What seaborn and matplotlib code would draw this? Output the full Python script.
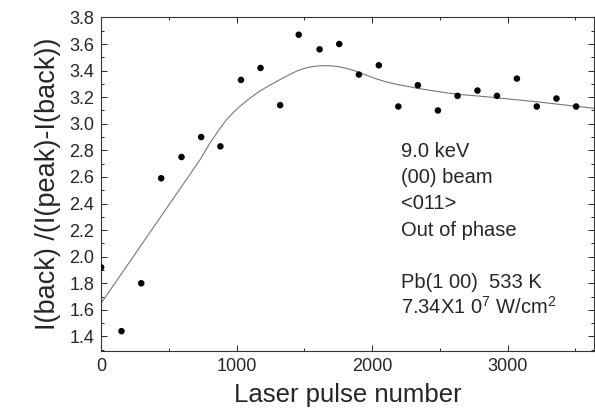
import numpy as np
import pandas as pd
import matplotlib
matplotlib.use('Agg')
import matplotlib.pyplot as plt
from matplotlib.ticker import MultipleLocator
import seaborn as sns

# measured points
pulse_number = [0, 150, 296, 443, 593, 738, 880, 1032, 1176, 1321, 1458, 1612, 1757,
                1902, 2049, 2193, 2337, 2485, 2630, 2777, 2921, 3068, 3215, 3360, 3505]
ratio = [1.92, 1.44, 1.80, 2.59, 2.75, 2.90, 2.83, 3.33, 3.42, 3.14, 3.67, 3.56, 3.60,
         3.37, 3.44, 3.13, 3.29, 3.10, 3.21, 3.25, 3.21, 3.34, 3.13, 3.19, 3.13]

# smooth guide curve
fit_x = [0, 730, 800, 870, 924, 975, 1022, 1095, 1169, 1245, 1316, 1390, 1451, 1510,
         1561, 1610, 1659, 1710, 1757, 1805, 1855, 1905, 1953, 2025, 2100, 2175, 2247,
         2345, 2443, 2540, 2640, 2836, 3032, 3228, 3424, 3640]
fit_y = [1.65, 2.73, 2.85, 2.955, 3.03, 3.085, 3.13, 3.19, 3.245, 3.29, 3.33, 3.37,
         3.40, 3.42, 3.43, 3.436, 3.437, 3.435, 3.429, 3.418, 3.404, 3.386, 3.367, 3.34,
         3.316, 3.298, 3.284, 3.265, 3.249, 3.234, 3.221, 3.204, 3.184, 3.164, 3.141,
         3.116]

labels = ['9.0 keV', '(00) beam', '<011>', 'Out of phase', '',
          'Pb(1 00)  533 K', r'7.34X1 0$^{7}$ W/cm$^{2}$']

pts = pd.DataFrame({'pulse': pulse_number, 'ratio': ratio})
fit = pd.DataFrame({'pulse': fit_x, 'ratio': fit_y})

sns.set_style('ticks')
plt.rcParams['font.family'] = ['Liberation Sans', 'DejaVu Sans']
plt.rcParams['mathtext.fontset'] = 'custom'
plt.rcParams['mathtext.rm'] = 'Liberation Sans'
plt.rcParams['mathtext.it'] = 'Liberation Sans'

fig, ax = plt.subplots(figsize=(5.95, 4.15), dpi=100)
fig.subplots_adjust(left=0.170, right=0.999, bottom=0.154, top=0.958)

sns.lineplot(data=fit, x='pulse', y='ratio', ax=ax, color='#777777', linewidth=0.8,
             sort=False)
sns.scatterplot(data=pts, x='pulse', y='ratio', ax=ax, color='black', s=22,
                edgecolor='none', zorder=3)

ax.set_xlim(0, 3640)
ax.set_ylim(1.29, 3.8)
ax.xaxis.set_major_locator(MultipleLocator(1000))
ax.xaxis.set_minor_locator(MultipleLocator(500))
ax.yaxis.set_major_locator(MultipleLocator(0.2))
ax.yaxis.set_minor_locator(MultipleLocator(0.1))
ax.tick_params(which='both', direction='in', top=True, right=True, width=0.7,
               labelsize=13, pad=5)
ax.tick_params(which='major', length=4)
ax.tick_params(which='minor', length=2)
for sp in ax.spines.values():
    sp.set_linewidth(0.8)
    sp.set_color('#333333')

ax.set_xlabel('Laser pulse number', fontsize=18.5, labelpad=6)
ax.set_ylabel('I(back) /(I(peak)-I(back))', fontsize=19.5, labelpad=6)

for i, txt in enumerate(labels):
    if txt:
        ax.text(2215, 2.752 - i * 0.1975, txt, fontsize=14.5, va='baseline', ha='left')

fig.savefig('out.png', dpi=100)
